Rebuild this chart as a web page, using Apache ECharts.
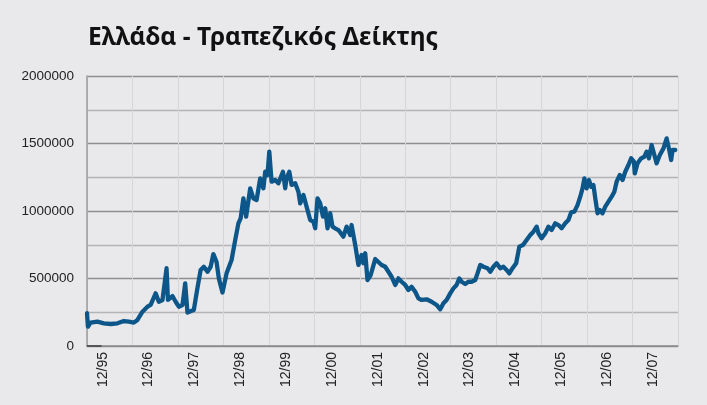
<!DOCTYPE html>
<html>
<head>
<meta charset="utf-8">
<script src="https://cdn.jsdelivr.net/npm/echarts@6/dist/echarts.min.js"></script>
<style>
html,body{margin:0;padding:0;background:#e9e9eb;}
#chart{width:707px;height:405px;}
</style>
</head>
<body>
<div id="chart"></div>
<script>
// ---- data (x in decimal years, y index value) ----
const title = 'Ελλάδα - Τραπεζικός Δείκτης';
const years = [
1995.57,1995.59,1995.65,1995.80,1995.94,1996.09,1996.24,1996.38,1996.49,1996.60,
1996.68,1996.79,1996.90,1996.97,1997.08,1997.15,1997.23,1997.32,1997.35,1997.45,
1997.52,1997.59,1997.67,1997.73,1997.78,1997.86,1997.92,1998.00,1998.07,1998.14,
1998.22,1998.29,1998.35,1998.42,1998.47,1998.55,1998.64,1998.75,1998.83,1998.90,
1998.95,1999.01,1999.07,1999.16,1999.23,1999.30,1999.38,1999.45,1999.49,1999.54,
1999.58,1999.63,1999.71,1999.78,1999.88,1999.93,1999.96,2000.02,2000.07,2000.15,
2000.22,2000.26,2000.33,2000.40,2000.48,2000.55,2000.59,2000.64,2000.70,2000.76,
2000.81,2000.86,2000.92,2000.97,2001.03,2001.10,2001.21,2001.28,2001.36,2001.39,
2001.47,2001.54,2001.61,2001.65,2001.69,2001.74,2001.81,2001.91,2001.98,2002.05,
2002.13,2002.20,2002.27,2002.35,2002.42,2002.49,2002.57,2002.64,2002.71,2002.79,
2002.86,2002.93,2003.04,2003.15,2003.26,2003.34,2003.41,2003.48,2003.56,2003.63,
2003.70,2003.76,2003.81,2003.89,2003.96,2004.03,2004.11,2004.16,2004.22,2004.29,
2004.38,2004.44,2004.51,2004.58,2004.66,2004.73,2004.80,2004.86,2004.93,2005.01,
2005.08,2005.16,2005.24,2005.32,2005.39,2005.46,2005.50,2005.57,2005.65,2005.72,
2005.79,2005.87,2005.94,2006.01,2006.09,2006.16,2006.22,2006.29,2006.36,2006.42,
2006.47,2006.51,2006.56,2006.61,2006.66,2006.71,2006.75,2006.80,2006.85,2006.91,
2006.97,2007.04,2007.11,2007.17,2007.22,2007.29,2007.35,2007.41,2007.48,2007.54,
2007.60,2007.62,2007.68,2007.76,2007.83,2007.88,2007.93,2007.99,2008.05,2008.10,
2008.17,2008.25,2008.32,2008.37,2008.42,2008.45,2008.51
];
const values = [
244000,143000,173000,180000,168000,163000,168000,185000,180000,173000,
193000,254000,291000,304000,390000,328000,341000,576000,341000,370000,
328000,291000,304000,464000,247000,259000,267000,430000,563000,587000,
550000,587000,681000,622000,501000,396000,538000,637000,785000,909000,
946000,1094000,958000,1168000,1094000,1081000,1242000,1168000,1291000,1267000,
1439000,1217000,1230000,1205000,1291000,1168000,1242000,1291000,1193000,1205000,
1143000,1057000,1119000,1032000,933000,921000,872000,1094000,1057000,958000,
1020000,872000,983000,884000,872000,859000,810000,884000,822000,896000,
748000,600000,674000,613000,687000,489000,526000,644000,622000,600000,
587000,550000,513000,452000,501000,476000,452000,415000,439000,402000,
353000,341000,346000,328000,304000,272000,316000,341000,390000,427000,
452000,501000,476000,459000,476000,476000,489000,538000,600000,587000,
576000,550000,587000,613000,576000,587000,563000,538000,576000,613000,
736000,748000,785000,822000,847000,884000,835000,798000,835000,884000,
859000,909000,896000,872000,909000,933000,990000,995000,1044000,1106000,
1168000,1242000,1168000,1230000,1180000,1193000,1094000,983000,1007000,983000,
1032000,1069000,1106000,1143000,1217000,1267000,1230000,1291000,1341000,1390000,
1365000,1279000,1353000,1390000,1402000,1439000,1390000,1489000,1415000,1353000,
1415000,1464000,1538000,1464000,1378000,1452000,1452000
];
const baseSegYears = [1995.57, 1995.89];
const baseSegValues = [0, 0];
const tickLabels = ['12/95','12/96','12/97','12/98','12/99','12/00','12/01','12/02','12/03','12/04','12/05','12/06','12/07'];
const tickLabelYears = [1995.915,1996.924,1997.933,1998.941,1999.950,2000.959,2001.968,2002.977,2003.986,2004.994,2006.003,2007.012,2008.021];
const yTicks = [0, 500000, 1000000, 1500000, 2000000];
const X0 = 1995.57;      // left edge of plot (first grid column)
const X_SPAN = 13;       // years covered by the grid

// ---- build ----
const lineData = years.map((y, i) => [y - X0, values[i]]);
const baseData = baseSegYears.map((y, i) => [y - X0, baseSegValues[i]]);
const labelPos = tickLabelYears.map(y => y - X0);

const chart = echarts.init(document.getElementById('chart'), null, {renderer: 'canvas'});
chart.setOption({
  backgroundColor: '#e9e9eb',
  animation: false,
  title: {
    text: title,
    left: 83, top: 21,
    textStyle: {fontFamily: 'Noto Sans', fontWeight: 'bold', fontSize: 24.5, color: '#111'}
  },
  grid: {left: 87, right: 29, top: 76, bottom: 59, containLabel: false},
  xAxis: {
    type: 'value', min: 0, max: X_SPAN, interval: 1,
    axisLine: {show: true, onZero: false, lineStyle: {color: '#8c8c8c', width: 1.5}},
    axisTick: {show: false},
    splitLine: {show: true, lineStyle: {color: '#d6d6d8', width: 1}},
    axisLabel: {
      customValues: labelPos,
      rotate: 90, margin: 6,
      fontFamily: 'Liberation Sans', fontSize: 14, color: '#222',
      formatter: function (v) {
        let best = 0, bd = 1e9;
        labelPos.forEach((p, i) => { const d = Math.abs(p - v); if (d < bd) { bd = d; best = i; } });
        return tickLabels[best];
      }
    }
  },
  yAxis: {
    type: 'value', min: 0, max: 2000000, interval: 250000,
    axisLine: {show: true, lineStyle: {color: '#9a9a9a', width: 1.5}},
    axisTick: {show: false},
    splitLine: {show: true, lineStyle: {color: ['#8e8e8e', '#b4b4b6'], width: 1.3}},
    axisLabel: {
      margin: 13, fontFamily: 'Liberation Sans', fontSize: 13.5, color: '#222',
      formatter: v => (yTicks.indexOf(v) >= 0 ? String(v) : '')
    }
  },
  series: [
    {
      type: 'line', data: baseData, showSymbol: false, silent: true,
      lineStyle: {color: '#555', width: 2}
    },
    {
      type: 'line', data: lineData, showSymbol: false, silent: true,
      lineStyle: {color: '#0d5689', width: 4.3, join: 'round', cap: 'round'}
    }
  ]
});
</script>
</body>
</html>
